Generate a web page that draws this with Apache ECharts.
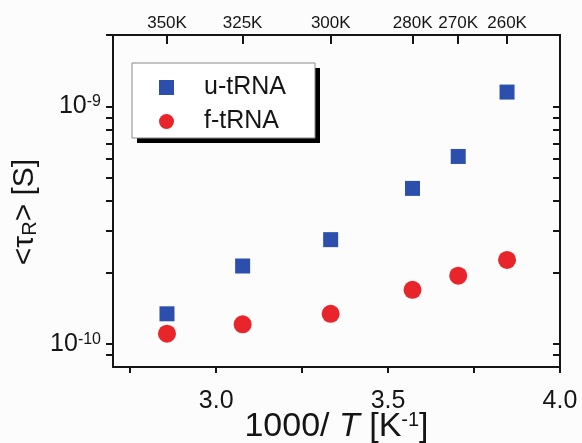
<!DOCTYPE html>
<html>
<head>
<meta charset="utf-8">
<script src="https://cdn.jsdelivr.net/npm/echarts@6/dist/echarts.min.js"></script>
<style>
html,body{margin:0;padding:0;background:#fcfcfc;}
#chart{width:582px;height:443px;}
</style>
</head>
<body>
<div id="chart"></div>
<script>
// Data
const temperaturesK = [350, 325, 300, 280, 270, 260];
const inverseT = [2.857, 3.077, 3.333, 3.571, 3.704, 3.846];
const uTRNA = [1.34e-10, 2.13e-10, 2.75e-10, 4.52e-10, 6.16e-10, 1.15e-9];
const fTRNA = [1.105e-10, 1.21e-10, 1.34e-10, 1.69e-10, 1.94e-10, 2.26e-10];
const bottomTickLabels = [3.0, 3.5, 4.0];
const bottomTicks = [2.75, 3.0, 3.25, 3.5, 3.75, 4.0];
const yTickLabels = [1e-10, 1e-9];
const yTicks = [9e-11, 1e-10, 2e-10, 3e-10, 4e-10, 5e-10, 6e-10, 7e-10, 8e-10, 9e-10, 1e-9, 2e-9];

const FONT = 'Liberation Sans, Arial, sans-serif';
const INK = '#151515';

const chart = echarts.init(document.getElementById('chart'), null, {renderer: 'canvas'});

const topTicks = temperaturesK.map(t => 1000 / t);

const axisLineStyle = {show: true, lineStyle: {color: INK, width: 2}};

const option = {
  backgroundColor: '#fcfcfc',
  animation: false,
  textStyle: {fontFamily: FONT},
  grid: {left: 113, right: 22, top: 35, bottom: 76, containLabel: false, outerBoundsMode: 'none'},
  graphic: [
    {type: 'rect', z: 1, shape: {x: 137, y: 68, width: 183, height: 75}, style: {fill: '#000'}},
    {type: 'rect', z: 2, shape: {x: 132, y: 63, width: 183, height: 75}, style: {fill: '#ffffff', stroke: '#8a8a8a', lineWidth: 1}}
  ],
  legend: {
    z: 10,
    orient: 'vertical',
    left: 132, top: 63,
    padding: [12, 22, 6, 27],
    itemWidth: 15, itemHeight: 15,
    itemGap: 9,
    formatter: name => '{g|}{t|' + name + '}',
    textStyle: {
      fontSize: 25, color: INK, fontFamily: FONT,
      rich: {
        g: {width: 25},
        t: {fontSize: 25, color: INK, fontFamily: FONT}
      }
    },
    data: ['u-tRNA', 'f-tRNA']
  },
  xAxis: [
    {
      type: 'value', position: 'bottom', min: 2.7, max: 4.0,
      axisLine: axisLineStyle,
      axisTick: {show: true, inside: false, length: 6, customValues: bottomTicks, lineStyle: {color: INK, width: 2}},
      axisLabel: {customValues: bottomTickLabels, formatter: v => v.toFixed(1), fontSize: 25, color: INK, margin: 22, fontFamily: FONT},
      splitLine: {show: false},
      name: '{n|1000/ }{i|T}{n| [K}{s|-1}{n|]}',
      nameLocation: 'middle', nameGap: 43, nameMoveOverlap: false,
      nameTextStyle: {
        fontSize: 34,
        rich: {
          n: {fontSize: 34, color: INK, fontFamily: FONT},
          i: {fontSize: 34, color: INK, fontFamily: FONT, fontStyle: 'italic'},
          s: {fontSize: 20, color: INK, fontFamily: FONT, verticalAlign: 'top'}
        }
      }
    },
    {
      type: 'value', position: 'top', min: 2.7, max: 4.0,
      axisLine: axisLineStyle,
      axisTick: {show: true, inside: true, length: 9, customValues: topTicks, lineStyle: {color: INK, width: 2}},
      axisLabel: {customValues: topTicks, formatter: v => Math.round(1000 / v) + 'K', fontSize: 17, color: INK, margin: 3, fontFamily: FONT},
      splitLine: {show: false}
    }
  ],
  yAxis: [
    {
      type: 'log', logBase: 10, position: 'left', min: 8e-11, max: 2e-9,
      axisLine: axisLineStyle,
      axisTick: {show: true, inside: false, length: 7, customValues: yTicks, lineStyle: {color: INK, width: 2}},
      axisLabel: {
        customValues: yTickLabels,
        formatter: v => '{b|10}{s|' + Math.round(Math.log10(v)) + '}',
        margin: 12,
        rich: {
          b: {fontSize: 25, lineHeight: 25, color: INK, fontFamily: FONT, verticalAlign: 'bottom', padding: [5, 0, 0, 0]},
          s: {fontSize: 16, lineHeight: 16, color: INK, fontFamily: FONT, verticalAlign: 'top'}
        }
      },
      splitLine: {show: false},
      name: '{n|<τ}{r|R}{n|> [S]}',
      nameLocation: 'middle', nameGap: 73, nameRotate: 90, nameMoveOverlap: false,
      nameTextStyle: {
        fontSize: 30,
        padding: [0, 22, 0, 0],
        rich: {
          n: {fontSize: 30, color: INK, fontFamily: FONT},
          r: {fontSize: 20, color: INK, fontFamily: FONT, verticalAlign: 'bottom'}
        }
      }
    },
    {
      type: 'log', logBase: 10, position: 'right', min: 8e-11, max: 2e-9,
      axisLine: axisLineStyle,
      axisTick: {show: true, inside: true, length: 7, customValues: yTicks, lineStyle: {color: INK, width: 2}},
      axisLabel: {show: false},
      splitLine: {show: false}
    }
  ],
  series: [
    {
      name: 'u-tRNA', type: 'scatter', symbol: 'rect', symbolSize: 15,
      xAxisIndex: 0, yAxisIndex: 0,
      itemStyle: {color: '#2c4fae', opacity: 1},
      data: inverseT.map((x, i) => [x, uTRNA[i]])
    },
    {
      name: 'f-tRNA', type: 'scatter', symbol: 'circle', symbolSize: 18,
      xAxisIndex: 0, yAxisIndex: 0,
      itemStyle: {color: '#e8252a', opacity: 1},
      data: inverseT.map((x, i) => [x, fTRNA[i]])
    }
  ]
};

chart.setOption(option);
</script>
</body>
</html>
